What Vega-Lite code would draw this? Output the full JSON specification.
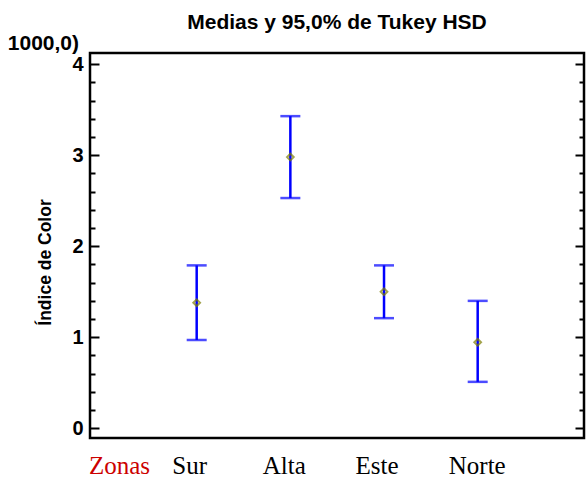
{
  "$schema": "https://vega.github.io/schema/vega-lite/v6.json",
  "width": 494,
  "height": 385,
  "autosize": {"type": "none"},
  "padding": {"left": 90, "top": 53, "right": 2, "bottom": 40},
  "title": {"text": "Medias y 95,0% de Tukey HSD", "font": "Liberation Sans", "fontSize": 21, "fontWeight": "bold", "color": "black", "anchor": "middle", "offset": 0},
  "config": {
    "view": {"stroke": "black", "strokeWidth": 2.5},
    "axis": {"grid": false, "domain": false, "tickColor": "black", "labelColor": "black", "titleColor": "black"}
  },
  "datasets": {
    "zonas": [
      {"zona": "Sur", "pos": 1, "media": 1.38, "lo": 0.97, "hi": 1.79},
      {"zona": "Alta", "pos": 2, "media": 2.98, "lo": 2.53, "hi": 3.43},
      {"zona": "Este", "pos": 3, "media": 1.5, "lo": 1.21, "hi": 1.79},
      {"zona": "Norte", "pos": 4, "media": 0.945, "lo": 0.51, "hi": 1.4}
    ]
  },
  "resolve": {"axis": {"y": "independent", "x": "independent"}},
  "layer": [
    {
      "data": {"name": "zonas"},
      "mark": {"type": "rule", "color": "#0000ff", "strokeWidth": 2.5},
      "encoding": {
        "x": {"field": "pos", "type": "quantitative", "scale": {"domain": [-0.139, 5.135], "nice": false, "zero": false},
          "axis": {"orient": "bottom", "values": [0.17, 0.92, 1.93, 2.92, 3.99], "ticks": false, "title": null,
            "labelExpr": "datum.value < 0.5 ? 'Zonas' : datum.value < 1.5 ? 'Sur' : datum.value < 2.5 ? 'Alta' : datum.value < 3.5 ? 'Este' : 'Norte'",
            "labelColor": {"condition": {"test": "datum.value < 0.5", "value": "#cc0000"}, "value": "black"},
            "labelFont": "Liberation Serif", "labelFontSize": 25, "labelPadding": 15, "labelFlush": false, "labelOverlap": false}},
        "y": {"field": "lo", "type": "quantitative", "scale": {"domain": [-0.107, 4.124], "nice": false, "zero": false},
          "axis": {"orient": "left", "values": [0, 1, 2, 3, 4], "tickSize": -9, "tickWidth": 2, "labelPadding": 16,
            "labelFont": "Liberation Sans", "labelFontSize": 20, "labelFontWeight": "bold",
            "title": "Índice de Color", "titleFont": "Liberation Sans", "titleFontSize": 17.5, "titleFontWeight": "bold", "titlePadding": 17, "titleY": 209}},
        "y2": {"field": "hi"}
      }
    },
    {
      "data": {"name": "zonas"},
      "mark": {"type": "tick", "orient": "horizontal", "color": "#0000ff", "size": 20, "thickness": 2.5},
      "encoding": {
        "x": {"field": "pos", "type": "quantitative", "scale": {"domain": [-0.139, 5.135], "nice": false, "zero": false}, "axis": null},
        "y": {"field": "hi", "type": "quantitative", "scale": {"domain": [-0.107, 4.124], "nice": false, "zero": false},
          "axis": {"orient": "left", "values": [0.2, 0.4, 0.6, 0.8, 1.2, 1.4, 1.6, 1.8, 2.2, 2.4, 2.6, 2.8, 3.2, 3.4, 3.6, 3.8], "tickSize": -5, "tickWidth": 2, "labels": false, "title": null}}
      }
    },
    {
      "data": {"name": "zonas"},
      "mark": {"type": "tick", "orient": "horizontal", "color": "#0000ff", "size": 20, "thickness": 2.5},
      "encoding": {
        "x": {"field": "pos", "type": "quantitative", "scale": {"domain": [-0.139, 5.135], "nice": false, "zero": false}, "axis": null},
        "y": {"field": "lo", "type": "quantitative", "scale": {"domain": [-0.107, 4.124], "nice": false, "zero": false},
          "axis": {"orient": "right", "values": [0, 1, 2, 3, 4], "tickSize": -9, "tickWidth": 2, "labels": false, "title": null}}
      }
    },
    {
      "data": {"name": "zonas"},
      "mark": {"type": "point", "shape": "diamond", "filled": false, "color": "#7d7d00", "size": 45, "strokeWidth": 2},
      "encoding": {
        "x": {"field": "pos", "type": "quantitative", "scale": {"domain": [-0.139, 5.135], "nice": false, "zero": false}, "axis": null},
        "y": {"field": "media", "type": "quantitative", "scale": {"domain": [-0.107, 4.124], "nice": false, "zero": false},
          "axis": {"orient": "right", "values": [0.2, 0.4, 0.6, 0.8, 1.2, 1.4, 1.6, 1.8, 2.2, 2.4, 2.6, 2.8, 3.2, 3.4, 3.6, 3.8], "tickSize": -5, "tickWidth": 2, "labels": false, "title": null}}
      }
    },
    {
      "data": {"values": [{"t": "1000,0)"}]},
      "mark": {"type": "text", "align": "right", "baseline": "middle", "font": "Liberation Sans", "fontSize": 21, "fontWeight": "bold", "color": "black"},
      "encoding": {
        "x": {"datum": -0.256, "type": "quantitative", "scale": {"domain": [-0.139, 5.135], "nice": false, "zero": false}, "axis": null},
        "y": {"datum": 4.22, "type": "quantitative", "scale": {"domain": [-0.107, 4.124], "nice": false, "zero": false}, "axis": null},
        "text": {"field": "t"}
      }
    }
  ]
}
